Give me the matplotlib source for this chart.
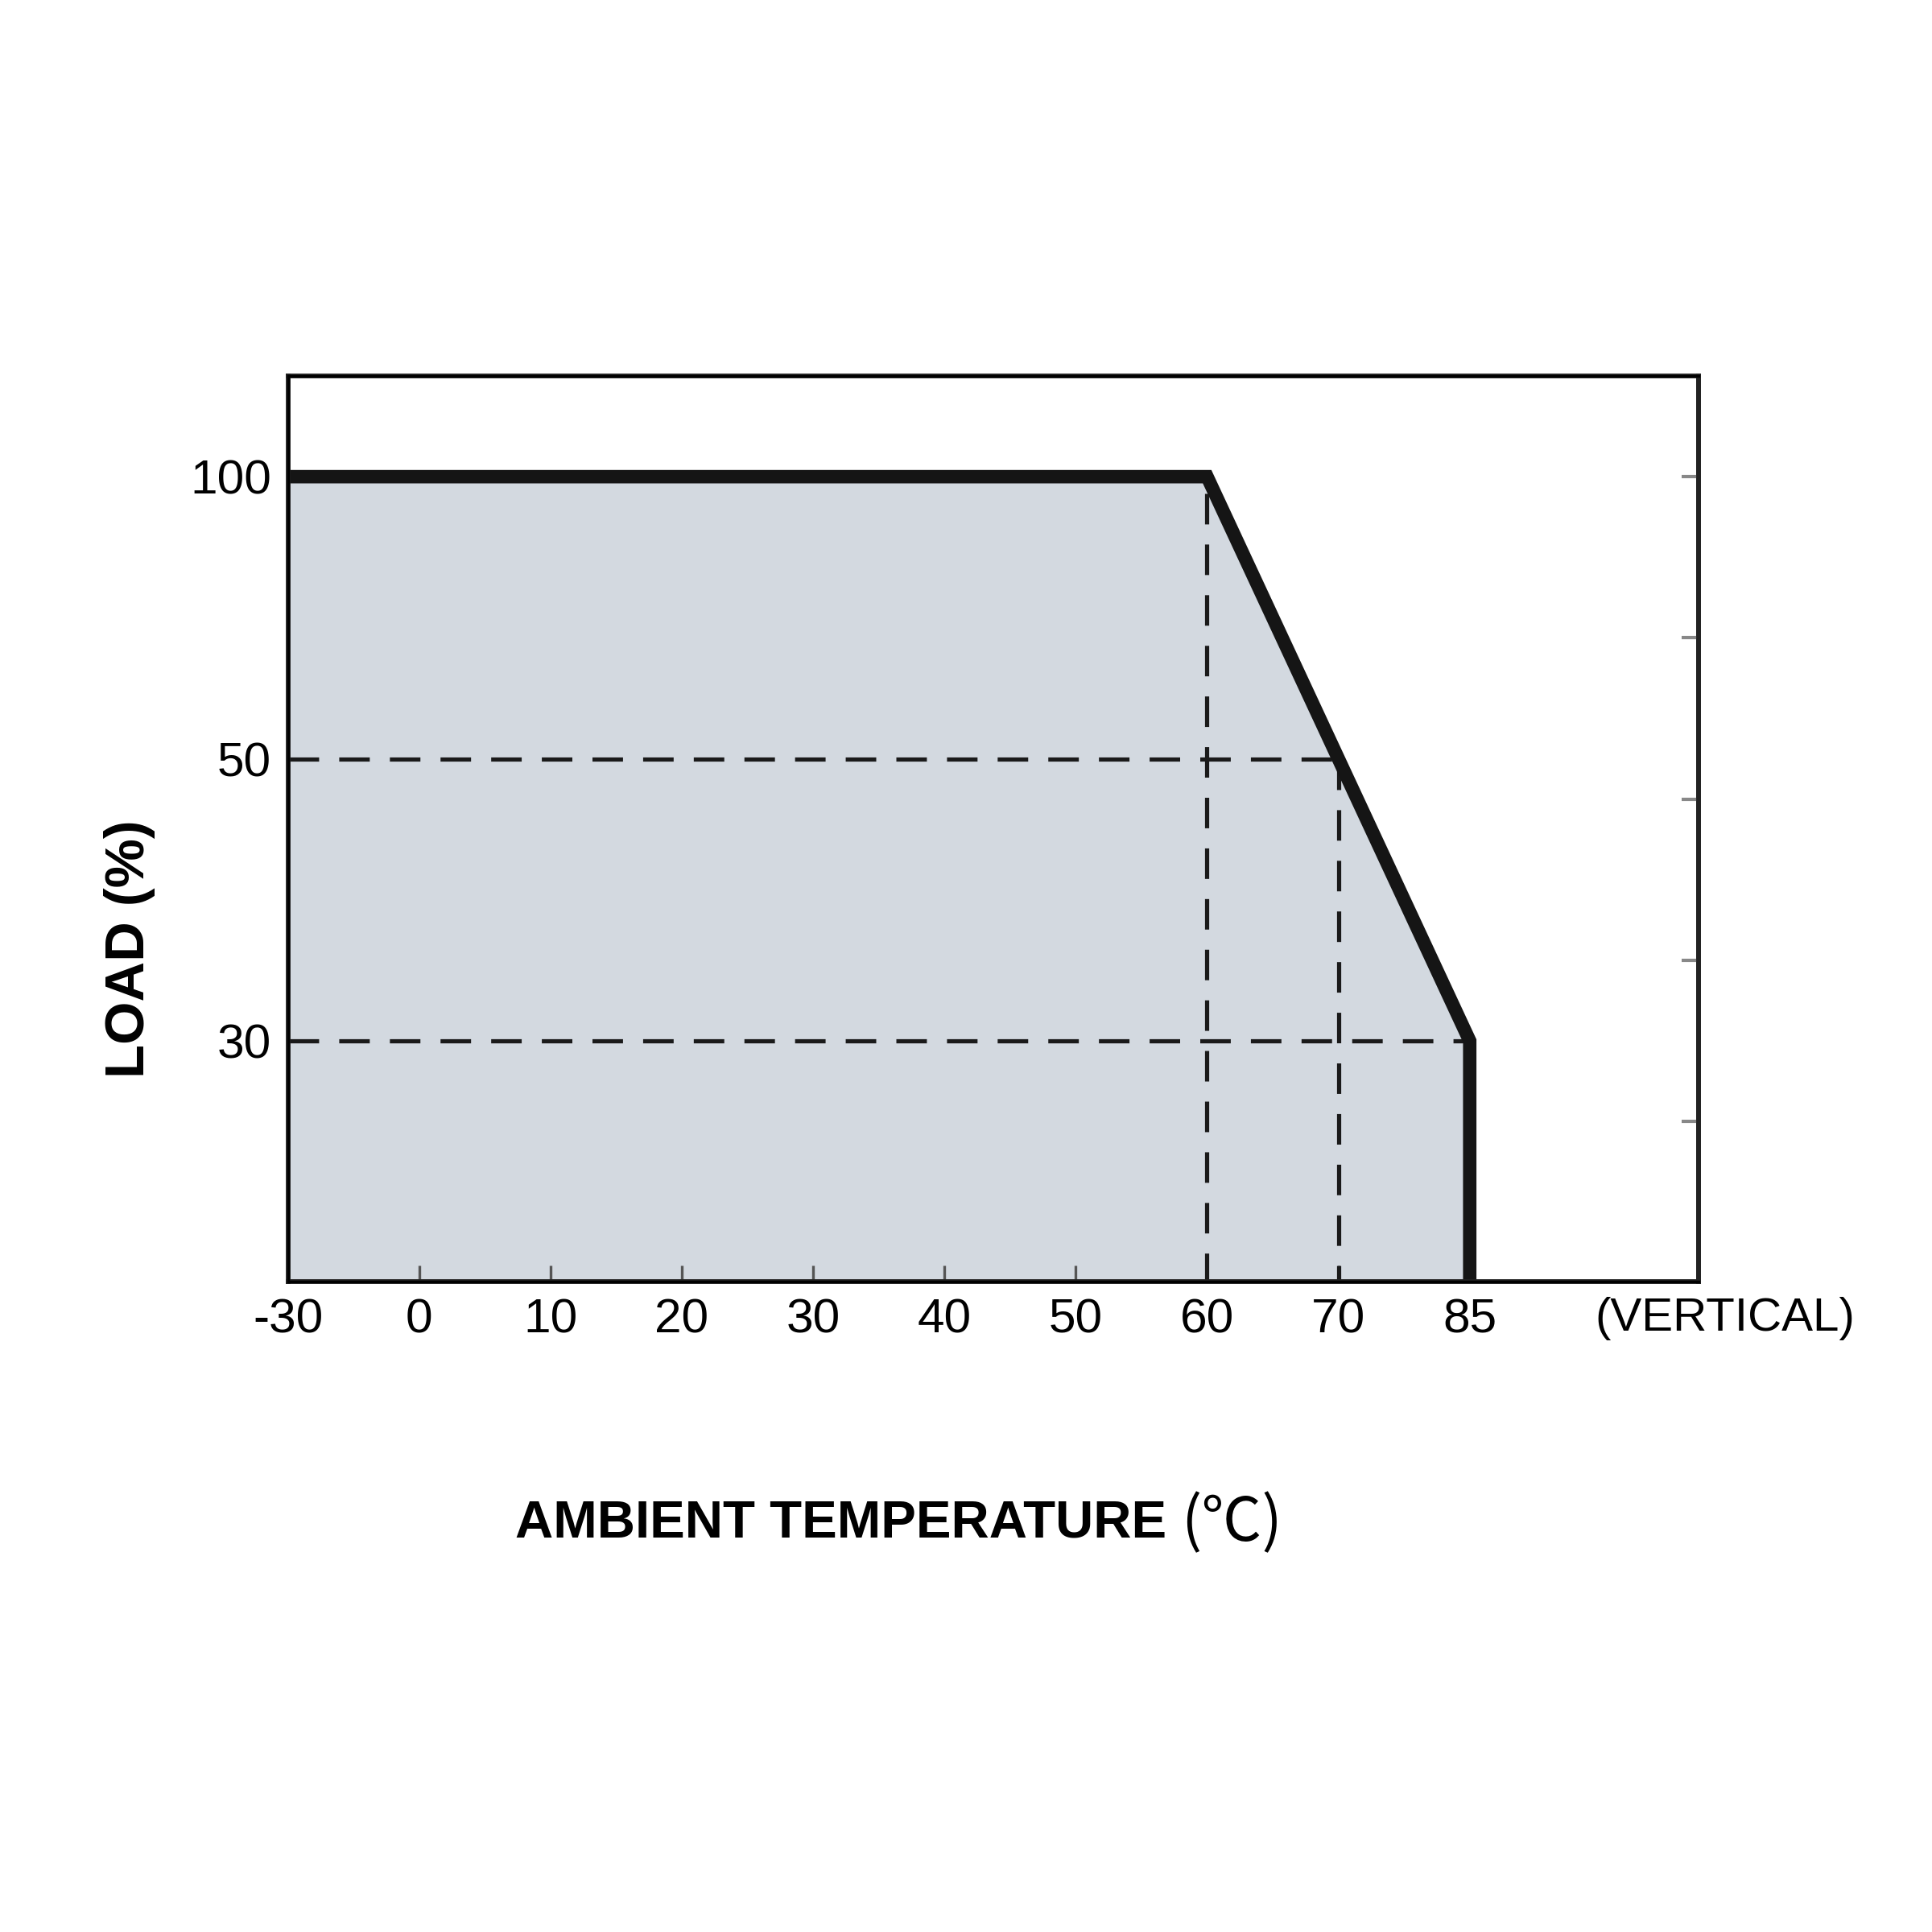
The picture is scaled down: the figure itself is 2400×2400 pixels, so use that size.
import numpy as np
import matplotlib
matplotlib.use('Agg')
from matplotlib import pyplot as plt

# derating curve data
X_TICKS = [-30, 0, 10, 20, 30, 40, 50, 60, 70, 85]
Y_TICKS = [30, 50, 100]
CURVE_T = [-30, 60, 85]
CURVE_LOAD = [100, 100, 30]

SANS = ['Liberation Sans', 'DejaVu Sans']
FILL = '#d3d9e0'


def piecewise(xp, fp):
    '''piecewise linear map with linear extrapolation at both ends'''
    xp, fp = np.asarray(xp, float), np.asarray(fp, float)

    def f(v):
        v = np.asarray(v, float)
        out = np.interp(v, xp, fp)
        out = np.where(v < xp[0], fp[0] + (v - xp[0]) * (fp[1] - fp[0]) / (xp[1] - xp[0]), out)
        out = np.where(v > xp[-1], fp[-1] + (v - xp[-1]) * (fp[-1] - fp[-2]) / (xp[-1] - xp[-2]), out)
        return out
    return f


xpos = np.arange(len(X_TICKS))
ypos = np.arange(len(Y_TICKS))

plt.rcParams['lines.scale_dashes'] = False

fig = plt.figure(figsize=(8, 8), dpi=300)
ax = fig.add_axes([0.149, 0.3367, 0.730, 0.4687])

ax.set_xscale('function', functions=(piecewise(X_TICKS, xpos), piecewise(xpos, X_TICKS)))
ax.set_yscale('function', functions=(piecewise(Y_TICKS, ypos), piecewise(ypos, Y_TICKS)))

xmin, xmax = -30, 111.1
ymin, ymax = 12.94, 117.85
ax.set_xlim(xmin, xmax)
ax.set_ylim(ymin, ymax)

# shaded area under the curve
ax.fill(CURVE_T + [CURVE_T[-1], CURVE_T[0]],
        CURVE_LOAD + [ymin, ymin], color=FILL, lw=0, zorder=1)

# dashed guide lines
dash = dict(color='#1a1a1a', lw=1.25, dashes=(9.1, 6), zorder=2)
ax.plot([-30, 70], [50, 50], **dash)
ax.plot([-30, 85], [30, 30], **dash)
ax.plot([60, 60], [97, ymin], **dash)
ax.plot([70, 70], [50, ymin], **dash)

# derating curve
ax.plot(CURVE_T + [CURVE_T[-1]], CURVE_LOAD + [ymin], color='#151515', lw=4.0,
        solid_joinstyle='miter', solid_capstyle='butt', zorder=3)

for s in ax.spines.values():
    s.set_linewidth(1.4)
    s.set_color('#222222')
    s.set_zorder(4)

ax.set_xticks(X_TICKS)
ax.set_xticklabels([str(v) for v in X_TICKS], family=SANS, fontsize=14.5)
ax.set_yticks(Y_TICKS)
ax.set_yticklabels([str(v) for v in Y_TICKS], family=SANS, fontsize=14.5)
ax.minorticks_off()
ax.tick_params(axis='x', direction='in', length=4.8, width=0.8, color='#555555', pad=5)
ax.tick_params(axis='y', direction='in', length=0, pad=5)

# decorative ticks on the right spine
ax2 = ax.twinx()
ax2.set_ylim(-0.853, 2.357)
ax2.set_yticks(np.linspace(2, -0.285, 5))
ax2.tick_params(axis='y', direction='in', length=5, width=1.0, color='#888888', labelright=False)
ax2.spines['right'].set_linewidth(1.4)
ax2.spines['right'].set_color('#222222')

ax.text(1.019, -0.041, '(VERTICAL)', transform=ax.transAxes, ha='center', va='center',
        family=SANS, fontsize=14)

fig.text(0.067, 0.509, 'LOAD (%)', rotation=90, ha='center', va='center',
         family=SANS, fontweight='bold', fontsize=16.5)

t = fig.text(0.2667, 0.2113, 'AMBIENT TEMPERATURE ', family=SANS, fontweight='bold',
             fontsize=15.7, ha='left', va='center')
ax.annotate('(℃)', xy=(1, 0.5), xycoords=t, va='center', ha='left',
            family=['Noto Sans CJK SC', 'DejaVu Sans'], fontsize=18, fontweight='light')

plt.savefig('out.png', format='png', dpi=300)
